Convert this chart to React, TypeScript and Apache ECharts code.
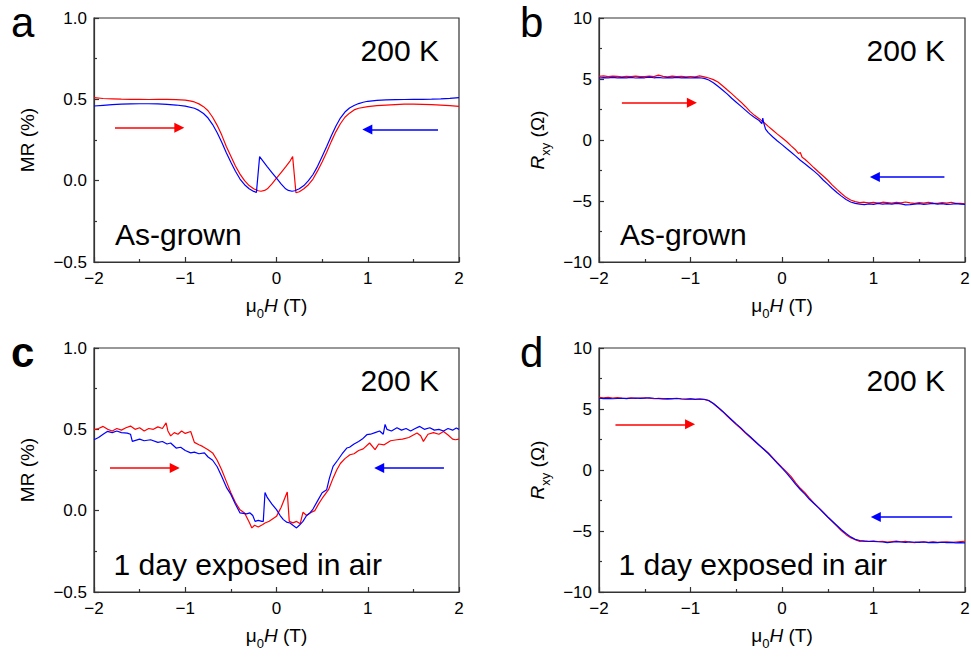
import { useEffect, useRef } from 'react';
import * as echarts from 'echarts';

// ---------- data ----------
const fieldTicks = [-2, -1, 0, 1, 2];
const mrTicks = [-0.5, 0, 0.5, 1.0];
const rxyTicks = [-10, -5, 0, 5, 10];

// Panel a: MR, as-grown (red: sweep up, blue: sweep down)
const mrAsGrownUp: number[][] = [
  [-2, 0.51], [-1.9, 0.505], [-1.8, 0.503], [-1.7, 0.501], [-1.6, 0.5], [-1.5, 0.5], [-1.4, 0.499], [-1.3, 0.5], [-1.2, 0.5], [-1.1, 0.498],
  [-1.0, 0.495], [-0.95, 0.491], [-0.9, 0.484], [-0.85, 0.472], [-0.8, 0.455], [-0.75, 0.43], [-0.7, 0.39], [-0.65, 0.34], [-0.6, 0.28],
  [-0.55, 0.21], [-0.5, 0.15], [-0.45, 0.09], [-0.4, 0.04], [-0.35, 0.0], [-0.3, -0.03], [-0.25, -0.05], [-0.2, -0.062], [-0.17, -0.065],
  [-0.13, -0.06], [-0.1, -0.05], [-0.05, -0.02], [0, 0.015], [0.05, 0.05], [0.1, 0.085], [0.15, 0.122], [0.177, 0.148], [0.213, -0.074],
  [0.25, -0.068], [0.3, -0.05], [0.35, -0.025], [0.4, 0.01], [0.45, 0.06], [0.5, 0.115], [0.55, 0.175], [0.6, 0.24], [0.65, 0.3], [0.7, 0.35],
  [0.75, 0.39], [0.8, 0.415], [0.85, 0.435], [0.9, 0.445], [1.0, 0.455], [1.1, 0.461], [1.2, 0.465], [1.3, 0.468], [1.4, 0.47], [1.5, 0.47],
  [1.6, 0.469], [1.7, 0.467], [1.8, 0.464], [1.9, 0.461], [2, 0.457],
];
const mrAsGrownDown: number[][] = [
  [2, 0.51], [1.9, 0.506], [1.8, 0.503], [1.7, 0.501], [1.6, 0.5], [1.5, 0.5], [1.4, 0.499], [1.3, 0.498], [1.2, 0.497], [1.1, 0.494],
  [1.0, 0.488], [0.95, 0.482], [0.9, 0.474], [0.85, 0.462], [0.8, 0.447], [0.75, 0.422], [0.7, 0.385], [0.65, 0.335], [0.6, 0.275],
  [0.55, 0.21], [0.5, 0.148], [0.45, 0.088], [0.4, 0.038], [0.35, 0.0], [0.3, -0.03], [0.25, -0.05], [0.2, -0.062], [0.17, -0.065],
  [0.13, -0.06], [0.1, -0.05], [0.05, -0.02], [0, 0.015], [-0.05, 0.05], [-0.1, 0.085], [-0.15, 0.122], [-0.185, 0.148], [-0.22, -0.072],
  [-0.25, -0.066], [-0.3, -0.05], [-0.35, -0.025], [-0.4, 0.01], [-0.45, 0.058], [-0.5, 0.113], [-0.55, 0.172], [-0.6, 0.236], [-0.65, 0.295],
  [-0.7, 0.345], [-0.75, 0.385], [-0.8, 0.413], [-0.85, 0.432], [-0.9, 0.445], [-1.0, 0.458], [-1.1, 0.465], [-1.2, 0.469], [-1.3, 0.472],
  [-1.4, 0.473], [-1.5, 0.473], [-1.6, 0.472], [-1.7, 0.47], [-1.8, 0.467], [-1.9, 0.463], [-2, 0.459],
];

// Panel b: Rxy, as-grown
const rxyAsGrownUp: number[][] = [
  [-2, 5.22], [-1.95, 5.25], [-1.9, 5.2], [-1.85, 5.24], [-1.8, 5.21], [-1.75, 5.18], [-1.7, 5.22], [-1.65, 5.2], [-1.6, 5.24], [-1.55, 5.19],
  [-1.5, 5.2], [-1.45, 5.23], [-1.4, 5.2], [-1.35, 5.32], [-1.3, 5.21], [-1.25, 5.18], [-1.2, 5.23], [-1.15, 5.2], [-1.1, 5.22], [-1.05, 5.17],
  [-1.0, 5.2], [-0.95, 5.18], [-0.9, 5.25], [-0.85, 5.18], [-0.8, 5.08], [-0.75, 4.95], [-0.7, 4.75], [-0.65, 4.45], [-0.6, 4.12],
  [-0.55, 3.8], [-0.5, 3.45], [-0.45, 3.12], [-0.4, 2.75], [-0.35, 2.35], [-0.3, 2.02], [-0.25, 1.75], [-0.2, 1.45], [-0.15, 1.12],
  [-0.1, 0.8], [-0.05, 0.48], [0, 0.18], [0.05, -0.12], [0.1, -0.48], [0.15, -0.82], [0.18, -1.1], [0.2, -1.02], [0.22, -1.42],
  [0.25, -1.58], [0.3, -1.92], [0.35, -2.28], [0.4, -2.62], [0.45, -2.95], [0.5, -3.3], [0.55, -3.7], [0.6, -4.05], [0.65, -4.38],
  [0.7, -4.7], [0.75, -4.92], [0.8, -5.05], [0.85, -5.14], [0.9, -5.1], [0.95, -5.15], [1.0, -5.12], [1.05, -5.18], [1.1, -5.1],
  [1.15, -5.14], [1.2, -5.18], [1.25, -5.12], [1.3, -5.16], [1.35, -5.08], [1.4, -5.15], [1.45, -5.2], [1.5, -5.14], [1.55, -5.18],
  [1.6, -5.12], [1.65, -5.17], [1.7, -5.2], [1.75, -5.14], [1.8, -5.18], [1.85, -5.1], [1.9, -5.19], [1.95, -5.2], [2, -5.24],
];
const rxyAsGrownDown: number[][] = [
  [2, -5.28], [1.95, -5.25], [1.9, -5.22], [1.85, -5.26], [1.8, -5.28], [1.75, -5.22], [1.7, -5.25], [1.65, -5.2], [1.6, -5.24], [1.55, -5.27],
  [1.5, -5.22], [1.45, -5.25], [1.4, -5.3], [1.35, -5.32], [1.3, -5.24], [1.25, -5.2], [1.2, -5.26], [1.15, -5.22], [1.1, -5.25], [1.05, -5.2],
  [1.0, -5.27], [0.95, -5.24], [0.9, -5.3], [0.85, -5.25], [0.8, -5.2], [0.75, -5.08], [0.7, -4.88], [0.65, -4.6], [0.6, -4.3],
  [0.55, -3.98], [0.5, -3.62], [0.45, -3.28], [0.4, -2.88], [0.35, -2.55], [0.3, -2.25], [0.25, -1.95], [0.2, -1.66], [0.15, -1.32],
  [0.1, -1.0], [0.05, -0.7], [0, -0.38], [-0.05, -0.08], [-0.1, 0.25], [-0.15, 0.6], [-0.18, 0.9], [-0.2, 1.4], [-0.21, 1.8], [-0.22, 1.35],
  [-0.25, 1.6], [-0.3, 1.85], [-0.35, 2.12], [-0.4, 2.45], [-0.45, 2.78], [-0.5, 3.1], [-0.55, 3.42], [-0.6, 3.78], [-0.65, 4.1],
  [-0.7, 4.4], [-0.75, 4.7], [-0.8, 4.92], [-0.85, 5.05], [-0.9, 5.1], [-0.95, 5.12], [-1.0, 5.08], [-1.05, 5.12], [-1.1, 5.1],
  [-1.15, 5.14], [-1.2, 5.1], [-1.25, 5.12], [-1.3, 5.08], [-1.35, 5.13], [-1.4, 5.1], [-1.45, 5.15], [-1.5, 5.1], [-1.55, 5.12],
  [-1.6, 5.08], [-1.65, 5.13], [-1.7, 5.1], [-1.75, 5.12], [-1.8, 5.09], [-1.85, 5.13], [-1.9, 5.1], [-1.95, 5.12], [-2, 5.08],
];

// Panel c: MR, 1 day exposed in air
const mrAirUp: number[][] = [
  [-2, 0.498], [-1.95, 0.505], [-1.9, 0.518], [-1.85, 0.5], [-1.8, 0.49], [-1.75, 0.505], [-1.7, 0.495], [-1.65, 0.51], [-1.6, 0.52],
  [-1.55, 0.5], [-1.5, 0.51], [-1.45, 0.49], [-1.4, 0.505], [-1.35, 0.5], [-1.3, 0.515], [-1.25, 0.505], [-1.21, 0.54], [-1.19, 0.49],
  [-1.16, 0.46], [-1.12, 0.48], [-1.08, 0.47], [-1.04, 0.49], [-1.0, 0.475], [-0.94, 0.487], [-0.9, 0.42], [-0.85, 0.405], [-0.81, 0.395],
  [-0.75, 0.375], [-0.7, 0.355], [-0.65, 0.31], [-0.6, 0.25], [-0.55, 0.18], [-0.5, 0.11], [-0.45, 0.05], [-0.4, 0.005], [-0.35, -0.014],
  [-0.3, -0.07], [-0.27, -0.106], [-0.24, -0.09], [-0.2, -0.1], [-0.15, -0.085], [-0.126, -0.076], [-0.08, -0.065], [-0.04, -0.05],
  [0, -0.035], [0.05, 0.02], [0.1, 0.09], [0.118, 0.115], [0.14, -0.066], [0.18, -0.075], [0.22, -0.066], [0.26, -0.08], [0.29, -0.01],
  [0.33, -0.03], [0.367, -0.014], [0.42, 0.0], [0.46, 0.04], [0.5, 0.075], [0.57, 0.129], [0.62, 0.2], [0.66, 0.25], [0.7, 0.29],
  [0.75, 0.32], [0.805, 0.344], [0.85, 0.35], [0.9, 0.37], [0.95, 0.38], [1.02, 0.416], [1.08, 0.375], [1.12, 0.41], [1.18, 0.405],
  [1.25, 0.43], [1.32, 0.436], [1.38, 0.44], [1.45, 0.45], [1.54, 0.477], [1.58, 0.46], [1.61, 0.426], [1.66, 0.47], [1.72, 0.48],
  [1.78, 0.47], [1.83, 0.487], [1.88, 0.465], [1.93, 0.44], [1.96, 0.436], [2, 0.44],
];
const mrAirDown: number[][] = [
  [2, 0.5], [1.97, 0.508], [1.93, 0.495], [1.88, 0.505], [1.83, 0.49], [1.78, 0.5], [1.73, 0.495], [1.68, 0.51], [1.62, 0.5], [1.57, 0.518],
  [1.52, 0.505], [1.47, 0.49], [1.42, 0.505], [1.37, 0.495], [1.32, 0.51], [1.26, 0.49], [1.21, 0.5], [1.19, 0.53], [1.17, 0.47],
  [1.13, 0.49], [1.08, 0.48], [1.03, 0.47], [0.99, 0.467], [0.94, 0.44], [0.9, 0.425], [0.85, 0.41], [0.8, 0.39], [0.77, 0.385],
  [0.72, 0.35], [0.67, 0.31], [0.62, 0.272], [0.58, 0.2], [0.55, 0.129], [0.5, 0.11], [0.45, 0.06], [0.4, 0.01], [0.367, -0.014],
  [0.33, -0.03], [0.29, -0.066], [0.25, -0.09], [0.22, -0.106], [0.18, -0.09], [0.148, -0.076], [0.11, -0.07], [0.075, -0.055],
  [0.04, -0.03], [0, 0.006], [-0.05, 0.04], [-0.1, 0.08], [-0.126, 0.112], [-0.145, -0.066], [-0.16, -0.066], [-0.2, -0.06],
  [-0.235, -0.066], [-0.26, -0.03], [-0.29, -0.014], [-0.33, -0.02], [-0.4, -0.014], [-0.45, 0.04], [-0.5, 0.1], [-0.545, 0.14],
  [-0.6, 0.21], [-0.65, 0.27], [-0.7, 0.31], [-0.75, 0.33], [-0.79, 0.355], [-0.85, 0.35], [-0.9, 0.36], [-0.94, 0.355], [-1.0, 0.37],
  [-1.05, 0.39], [-1.1, 0.385], [-1.16, 0.416], [-1.2, 0.41], [-1.25, 0.425], [-1.3, 0.42], [-1.38, 0.436], [-1.45, 0.43], [-1.5, 0.44],
  [-1.58, 0.426], [-1.6, 0.47], [-1.635, 0.477], [-1.7, 0.48], [-1.75, 0.49], [-1.8, 0.48], [-1.854, 0.487], [-1.9, 0.47], [-1.95, 0.45],
  [-2, 0.436],
];

// Panel d: Rxy, 1 day exposed in air
const rxyAirUp: number[][] = [
  [-2, 5.95], [-1.95, 5.92], [-1.9, 5.96], [-1.85, 5.9], [-1.8, 5.93], [-1.75, 5.9], [-1.7, 5.88], [-1.65, 5.91], [-1.6, 5.87], [-1.55, 5.9],
  [-1.5, 5.92], [-1.45, 5.88], [-1.4, 5.84], [-1.35, 5.87], [-1.3, 5.85], [-1.25, 5.83], [-1.2, 5.86], [-1.15, 5.88], [-1.1, 5.84],
  [-1.05, 5.82], [-1.0, 5.84], [-0.95, 5.8], [-0.9, 5.81], [-0.85, 5.78], [-0.8, 5.68], [-0.75, 5.45], [-0.7, 5.12], [-0.65, 4.8],
  [-0.6, 4.42], [-0.55, 4.08], [-0.5, 3.72], [-0.45, 3.4], [-0.4, 3.02], [-0.35, 2.7], [-0.3, 2.35], [-0.25, 2.02], [-0.2, 1.72],
  [-0.15, 1.4], [-0.1, 1.0], [-0.05, 0.6], [0, 0.22], [0.05, -0.15], [0.1, -0.55], [0.15, -1.05], [0.2, -1.5], [0.25, -1.85],
  [0.3, -2.3], [0.35, -2.72], [0.4, -3.08], [0.45, -3.45], [0.5, -3.85], [0.55, -4.22], [0.6, -4.6], [0.65, -4.98], [0.7, -5.3],
  [0.75, -5.55], [0.8, -5.72], [0.85, -5.85], [0.9, -5.82], [0.95, -5.84], [1.0, -5.82], [1.05, -5.86], [1.1, -5.84], [1.15, -5.9],
  [1.2, -5.86], [1.25, -5.83], [1.3, -5.88], [1.35, -5.85], [1.4, -5.92], [1.45, -5.95], [1.5, -5.9], [1.55, -5.88], [1.6, -5.92],
  [1.65, -5.89], [1.7, -5.93], [1.75, -5.9], [1.8, -5.88], [1.85, -5.93], [1.9, -5.9], [1.95, -5.87], [2, -5.84],
];
const rxyAirDown: number[][] = [
  [2, -5.98], [1.95, -5.95], [1.9, -5.97], [1.85, -5.93], [1.8, -5.95], [1.75, -5.92], [1.7, -5.96], [1.65, -5.93], [1.6, -5.95],
  [1.55, -5.9], [1.5, -5.94], [1.45, -5.92], [1.4, -5.88], [1.35, -5.93], [1.3, -5.9], [1.25, -5.87], [1.2, -5.92], [1.15, -5.96],
  [1.1, -5.9], [1.05, -5.88], [1.0, -5.85], [0.95, -5.86], [0.9, -5.83], [0.85, -5.78], [0.8, -5.68], [0.75, -5.48], [0.7, -5.2],
  [0.65, -4.9], [0.6, -4.55], [0.55, -4.2], [0.5, -3.85], [0.45, -3.48], [0.4, -3.1], [0.35, -2.75], [0.3, -2.4], [0.25, -1.98],
  [0.2, -1.6], [0.15, -1.18], [0.1, -0.7], [0.05, -0.25], [0, 0.15], [-0.05, 0.55], [-0.1, 0.95], [-0.15, 1.35], [-0.2, 1.7],
  [-0.25, 2.05], [-0.3, 2.4], [-0.35, 2.75], [-0.4, 3.08], [-0.45, 3.45], [-0.5, 3.78], [-0.55, 4.12], [-0.6, 4.48], [-0.65, 4.82],
  [-0.7, 5.15], [-0.75, 5.45], [-0.8, 5.7], [-0.85, 5.8], [-0.9, 5.82], [-0.95, 5.79], [-1.0, 5.83], [-1.05, 5.8], [-1.1, 5.82],
  [-1.15, 5.86], [-1.2, 5.83], [-1.25, 5.85], [-1.3, 5.82], [-1.35, 5.86], [-1.4, 5.88], [-1.45, 5.92], [-1.5, 5.89], [-1.55, 5.87],
  [-1.6, 5.9], [-1.65, 5.88], [-1.7, 5.85], [-1.75, 5.88], [-1.8, 5.86], [-1.85, 5.84], [-1.9, 5.87], [-1.95, 5.85], [-2, 5.88],
];

// Sweep-direction arrows: [xStart, xHead, y] in data units
const arrowsUp = [
  [-1.77, -1.065, 0.325],
  [-1.75, -0.985, 3.06],
  [-1.825, -1.115, 0.262],
  [-1.82, -1.005, 3.75],
];
const arrowsDown = [
  [1.77, 0.995, 0.315],
  [1.775, 1.015, -3.03],
  [1.835, 1.125, 0.262],
  [1.86, 1.025, -3.86],
];

const panelLetters = ['a', 'b', 'c', 'd'];
const temperatureLabels = ['200 K', '200 K', '200 K', '200 K'];
const sampleLabels = ['As-grown', 'As-grown', '1 day exposed in air', '1 day exposed in air'];

// ---------- styling ----------
const FONT = '"Liberation Sans", Arial, Helvetica, sans-serif';
const AXIS = '#333333';
const RED = '#ff0000';
const BLUE = '#0000ff';
const TITLE_SIZE = 19;

const grids = [
  { left: 94, top: 18, width: 365, height: 244 },
  { left: 599, top: 18, width: 366, height: 244 },
  { left: 94, top: 348, width: 365, height: 244 },
  { left: 599, top: 348, width: 366, height: 244 },
];

const minus = (s: string) => s.replace('-', '\u2212');

const titleRich = {
  n: { fontFamily: FONT, fontSize: TITLE_SIZE, lineHeight: 30, verticalAlign: 'middle', color: '#000' },
  it: { fontFamily: FONT, fontSize: TITLE_SIZE, fontStyle: 'italic', lineHeight: 30, verticalAlign: 'middle', color: '#000' },
  sub: { fontFamily: FONT, fontSize: 13, lineHeight: 30, verticalAlign: 'bottom', color: '#000' },
};

function buildOption() {
  const xAxis = grids.map((_, i) => ({
    type: 'value',
    gridIndex: i,
    min: fieldTicks[0],
    max: fieldTicks[fieldTicks.length - 1],
    interval: 1,
    name: '{n|\u03bc}{sub|0}{it|H}{n| (T)}',
    nameLocation: 'middle',
    nameGap: 28,
    nameTextStyle: { color: '#000', fontFamily: FONT, fontSize: TITLE_SIZE, rich: titleRich },
    axisLine: { show: true, onZero: false, lineStyle: { color: AXIS, width: 1.2 } },
    axisTick: { show: true, inside: true, length: 5, lineStyle: { color: AXIS, width: 1.2 } },
    minorTick: { show: true, splitNumber: 2, length: 3, lineStyle: { color: AXIS, width: 1.2 } },
    splitLine: { show: false },
    minorSplitLine: { show: false },
    axisLabel: {
      show: true,
      showMinLabel: true,
      showMaxLabel: true,
      color: '#000',
      fontFamily: FONT,
      fontSize: 17,
      margin: 8,
      formatter: (v: number) => minus(String(v)),
    },
  }));

  const yAxis = grids.map((_, i) => {
    const isMR = i % 2 === 0;
    const ticks = isMR ? mrTicks : rxyTicks;
    return {
      type: 'value',
      gridIndex: i,
      min: ticks[0],
      max: ticks[ticks.length - 1],
      interval: ticks[1] - ticks[0],
      name: isMR ? '{n|MR (%)}' : '{it|R}{sub|xy}{n| (\u03a9)}',
      nameLocation: 'middle',
      nameGap: isMR ? 52 : 47,
      nameTextStyle: { color: '#000', fontFamily: FONT, fontSize: TITLE_SIZE, rich: titleRich },
      axisLine: { show: true, onZero: false, lineStyle: { color: AXIS, width: 1.2 } },
      axisTick: { show: true, inside: true, length: 5, lineStyle: { color: AXIS, width: 1.2 } },
      minorTick: { show: true, splitNumber: 2, length: 3, lineStyle: { color: AXIS, width: 1.2 } },
      splitLine: { show: false },
      minorSplitLine: { show: false },
      axisLabel: {
        show: true,
        showMinLabel: true,
        showMaxLabel: true,
        color: '#000',
        fontFamily: FONT,
        fontSize: 17,
        margin: 7,
        formatter: (v: number) => minus(isMR ? v.toFixed(1) : String(v)),
      },
    };
  });

  const upData = [mrAsGrownUp, rxyAsGrownUp, mrAirUp, rxyAirUp];
  const downData = [mrAsGrownDown, rxyAsGrownDown, mrAirDown, rxyAirDown];

  const arrow = (a: number[], color: string) => ({
    silent: true,
    symbol: ['none', 'triangle'],
    symbolSize: 10,
    label: { show: false },
    emphasis: { disabled: true },
    lineStyle: { color, width: 1.6, type: 'solid' },
    data: [[{ coord: [a[0], a[2]] }, { coord: [a[1], a[2]] }]],
  });

  const series: any[] = [];
  grids.forEach((_, i) => {
    series.push({
      type: 'line',
      xAxisIndex: i,
      yAxisIndex: i,
      data: upData[i],
      showSymbol: false,
      symbol: 'none',
      silent: true,
      lineStyle: { color: RED, width: 1.2 },
      itemStyle: { color: RED },
      markLine: arrow(arrowsUp[i], RED),
      z: 2,
    });
    series.push({
      type: 'line',
      xAxisIndex: i,
      yAxisIndex: i,
      data: downData[i],
      showSymbol: false,
      symbol: 'none',
      silent: true,
      lineStyle: { color: BLUE, width: 1.2 },
      itemStyle: { color: BLUE },
      markLine: arrow(arrowsDown[i], BLUE),
      z: 3,
    });
  });

  const graphics: any[] = [];
  grids.forEach((g, i) => {
    const right = g.left + g.width;
    const top = g.top;
    graphics.push({
      type: 'text',
      x: g.left - 83 + (i % 2 === 1 ? 4 : 0),
      y: top + 4,
      style: {
        text: panelLetters[i],
        fontFamily: FONT,
        fontSize: 42,
        fontWeight: i === 2 ? 'bold' : 'normal',
        fill: '#000',
        align: 'left',
        verticalAlign: 'middle',
      },
    });
    graphics.push({
      type: 'text',
      x: right - 20,
      y: top + 32.6,
      style: {
        text: temperatureLabels[i],
        fontFamily: FONT,
        fontSize: 30,
        fill: '#000',
        align: 'right',
        verticalAlign: 'middle',
      },
    });
    graphics.push({
      type: 'text',
      x: g.left + (i < 2 ? 21 : 19.5),
      y: top + 216.6,
      style: {
        text: sampleLabels[i],
        fontFamily: FONT,
        fontSize: 30,
        fill: '#000',
        align: 'left',
        verticalAlign: 'middle',
      },
    });
  });

  return {
    animation: false,
    backgroundColor: '#ffffff',
    grid: grids.map((g) => ({
      ...g,
      show: true,
      borderColor: AXIS,
      borderWidth: 1.2,
      backgroundColor: 'transparent',
      containLabel: false,
      outerBoundsMode: 'none',
    })),
    xAxis,
    yAxis,
    series,
    graphic: graphics,
  };
}

export default function App() {
  const ref = useRef<HTMLDivElement>(null);
  useEffect(() => {
    if (!ref.current) return;
    const chart = echarts.init(ref.current, null, { renderer: 'svg' });
    chart.setOption(buildOption() as any);
    return () => chart.dispose();
  }, []);
  return (
    <div
      ref={ref}
      style={{ position: 'absolute', left: 0, top: 0, width: 971, height: 657, background: '#fff' }}
    />
  );
}
